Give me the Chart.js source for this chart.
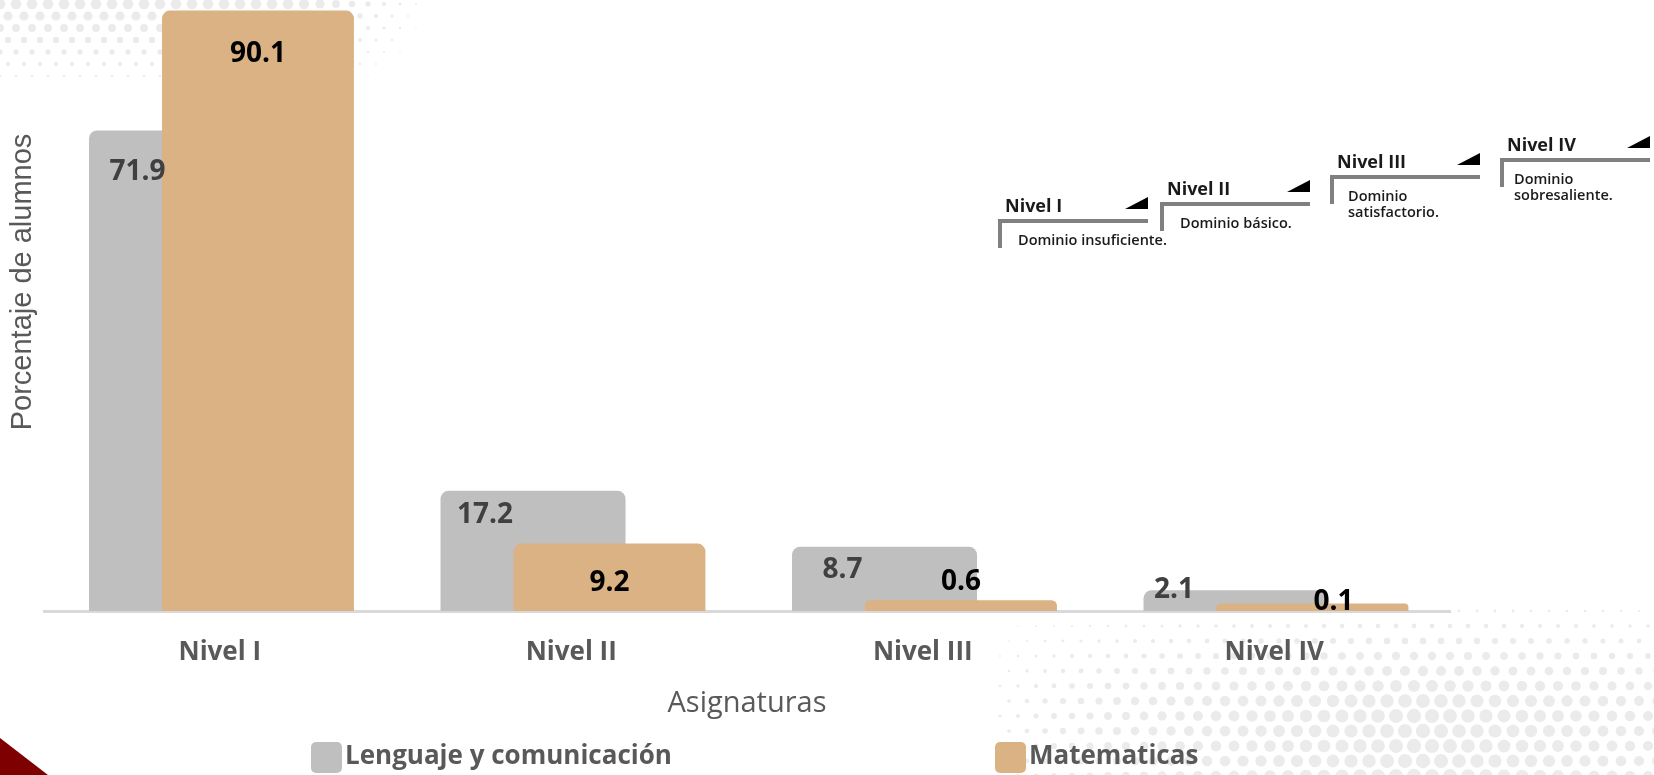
<!DOCTYPE html>
<html>
<head>
<meta charset="utf-8">
<script src="https://cdn.jsdelivr.net/npm/chart.js@4.4.0/dist/chart.umd.min.js"></script>
<style>
  html, body { margin: 0; padding: 0; background: #fff; }
  #wrap { width: 1654px; height: 775px; }
</style>
</head>
<body>
<div id="wrap"><canvas id="myChart" width="1654" height="775"></canvas></div>
<script>
// data
const categories = ["Nivel I", "Nivel II", "Nivel III", "Nivel IV"];
const lenguaje = [71.9, 17.2, 8.7, 2.1];
const matematicas = [90.1, 9.2, 0.6, 0.1];
const seriesNames = ["Lenguaje y comunicación", "Matematicas"];

// the little level key in the top right
const keyTitles = ["Nivel I", "Nivel II", "Nivel III", "Nivel IV"];
const keyTexts = [["Dominio insuficiente."], ["Dominio básico."], ["Dominio", "satisfactorio."], ["Dominio", "sobresaliente."]];

const ctx = document.getElementById("myChart").getContext("2d");

// where each value label sits relative to the top centre of its bar
const labelShift = [
  [[-44, 42], [-48, 24], [-42, 23], [-62, 0]],
  [[0, 43], [0, 39], [0, -18], [21, -1]]
];
const labelColors = ["#404040", "#000000"];

// background: halftone dots and red corner
const backdrop = {
  id: "backdrop",
  beforeDraw(chart) {
    const c = chart.ctx;
    c.save();
    c.fillStyle = "#ffffff";
    c.fillRect(0, 0, chart.width, chart.height);
    c.fillStyle = "#ebebeb";
    // top left dots
    for (let row = 0; row < 9; row++) {
      const y = 4 + row * 12;
      for (let col = 0; col < 36; col++) {
        const x = (row % 2 ? 8 : 0) + col * 16;
        let r = 5.5 * (1 - y / 100);
        if (x > 300) r *= Math.max(0, 1 - (x - 300) / 140);
        if (r > 0.6) { c.beginPath(); c.arc(x, y, r, 0, Math.PI * 2); c.fill(); }
      }
    }
    // bottom right dots
    for (let row = 0; row < 13; row++) {
      const y = 596 + row * 15;
      for (let col = 0; col < 40; col++) {
        const x = 1000 + (row % 2 ? 9 : 0) + col * 18;
        const a = Math.min(1, Math.max(0, (y - 585) / 120));
        const b = Math.max(0, 1 - Math.abs(x - 1420) / 440);
        const r = 7.2 * a * Math.sqrt(b);
        if (r > 0.7) { c.beginPath(); c.arc(x, y, r, 0, Math.PI * 2); c.fill(); }
      }
    }
    c.fillStyle = "#7f0000";
    c.beginPath();
    c.moveTo(0, 738);
    c.lineTo(48, 775);
    c.lineTo(0, 775);
    c.closePath();
    c.fill();
    c.restore();
  }
};

// grey bars first so the orange ones overlap them, then the value labels
const barsInOrder = {
  id: "barsInOrder",
  beforeDatasetsDraw(chart) {
    const c = chart.ctx;
    chart.data.datasets.forEach((ds, i) => {
      const meta = chart.getDatasetMeta(i);
      if (!meta.hidden) meta.controller.draw();
    });
    c.save();
    c.font = "bold 28px 'Open Sans'";
    c.textAlign = "center";
    c.textBaseline = "middle";
    chart.data.datasets.forEach((ds, i) => {
      const meta = chart.getDatasetMeta(i);
      c.fillStyle = labelColors[i];
      meta.data.forEach((bar, j) => {
        const s = labelShift[i][j];
        c.fillText(ds.data[j].toFixed(1), bar.x + s[0], bar.y + s[1]);
      });
    });
    c.restore();
    return false;
  }
};

const extras = {
  id: "extras",
  afterDraw(chart) {
    const c = chart.ctx;
    c.save();
    // y axis title
    c.save();
    c.translate(23, 282);
    c.rotate(-Math.PI / 2);
    c.font = "29px 'Liberation Sans'";
    c.fillStyle = "#595959";
    c.textAlign = "center";
    c.textBaseline = "middle";
    c.fillText("Porcentaje de alumnos", 0, 0);
    c.restore();

    // legend
    const legendX = [311, 995];
    c.font = "bold 26px 'Open Sans'";
    c.textBaseline = "middle";
    c.textAlign = "left";
    chart.data.datasets.forEach((ds, i) => {
      c.fillStyle = ds.backgroundColor;
      c.beginPath();
      c.roundRect(legendX[i], 742, 31, 31, 5);
      c.fill();
      c.fillStyle = "#595959";
      c.fillText(ds.label, legendX[i] + 34, 757);
    });

    // level key
    const keyX = [998, 1160, 1330, 1500];
    const keyY = [221, 204, 177, 160];
    const indent = [20, 20, 18, 14];
    keyTitles.forEach((t, i) => {
      const x = keyX[i], y = keyY[i];
      c.strokeStyle = "#808080";
      c.lineWidth = 4;
      c.beginPath();
      c.moveTo(x + 150, y);
      c.lineTo(x + 2, y);
      c.lineTo(x + 2, y + 27);
      c.stroke();
      c.fillStyle = "#000000";
      c.beginPath();
      c.moveTo(x + 127, y - 12);
      c.lineTo(x + 150, y - 12);
      c.lineTo(x + 150, y - 24);
      c.closePath();
      c.fill();
      c.fillStyle = "#1a1a1a";
      c.font = "bold 18px 'Open Sans'";
      c.fillText(t, x + 7, y - 14);
      c.font = "600 14.5px 'Open Sans'";
      keyTexts[i].forEach((line, k) => {
        c.fillText(line, x + indent[i], y + 20 + k * 15.5);
      });
    });
    c.restore();
  }
};

const myChart = new Chart(ctx, {
  type: "bar",
  data: {
    labels: categories,
    datasets: [
      {
        label: seriesNames[0],
        data: lenguaje,
        backgroundColor: "#bfbfbf",
        base: -1.04,
        borderRadius: 8,
        barPercentage: 2.42,
        categoryPercentage: 0.435,
      },
      {
        label: seriesNames[1],
        data: matematicas,
        backgroundColor: "#dbb283",
        base: -1.04,
        borderRadius: 8,
        barPercentage: 2.51,
        categoryPercentage: 0.435,
      },
    ],
  },
  options: {
    responsive: false,
    animation: false,
    layout: { padding: { left: 0, right: 204, top: 0, bottom: 54 } },
    plugins: {
      legend: { display: false },
      tooltip: { enabled: false },
    },
    scales: {
      x: {
        z: 1,
        grid: { display: false, drawTicks: false },
        border: { color: "#d9d9d9", width: 3 },
        ticks: {
          color: "#595959",
          padding: 26,
          font: { family: "'Open Sans'", size: 26, weight: "bold" },
        },
        title: {
          display: true,
          text: "Asignaturas",
          color: "#595959",
          font: { family: "'Open Sans'", size: 29 },
          padding: { top: 0, bottom: 0 },
        },
        afterFit(scale) {
          scale.height = 110;
        },
      },
      y: {
        min: -1.04,
        max: 91.7,
        grid: { display: false },
        border: { display: false },
        ticks: { display: false },
        afterFit(scale) {
          scale.width = 44;
        },
      },
    },
  },
  plugins: [backdrop, barsInOrder, extras],
});
</script>
</body>
</html>
